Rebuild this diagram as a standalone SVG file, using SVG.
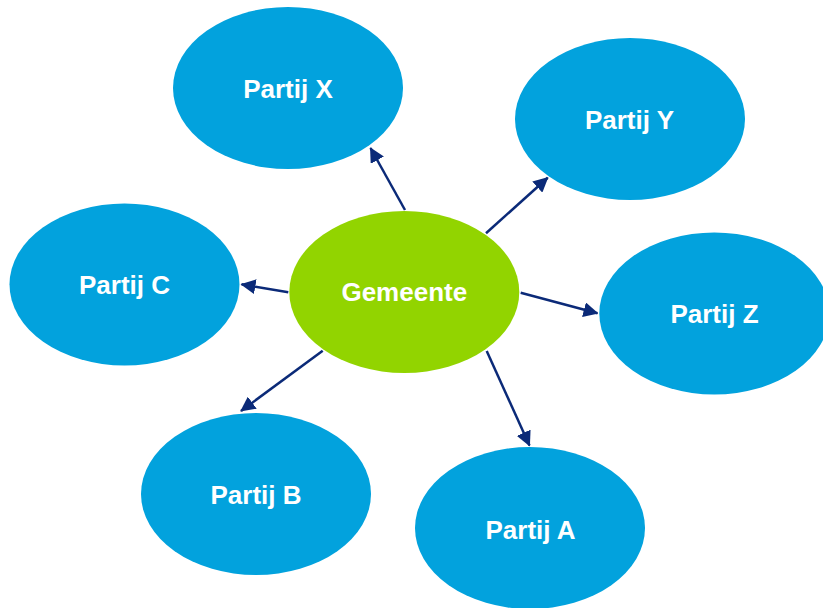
<svg xmlns="http://www.w3.org/2000/svg" width="823" height="608" viewBox="0 0 823 608">
  <style>
    .party { fill: #02A2DD; }
    .center { fill: #92D400; }
    .label { fill: #FFFFFF; font-family: "Liberation Sans", Arial, sans-serif; font-weight: bold; font-size: 26px; text-anchor: middle; }
    .conn { stroke: #0B2A78; stroke-width: 2.5; fill: none; marker-end: url(#arrow); }
  </style>
  <defs>
    <marker id="arrow" markerUnits="userSpaceOnUse" viewBox="0 0 15 15" markerWidth="15" markerHeight="15" refX="14" refY="7.5" orient="auto">
      <path d="M0,0 L15,7.5 L0,15 z" fill="#0B2A78"/>
    </marker>
  </defs>
  <rect width="823" height="608" fill="#FFFFFF"/>

  <g id="partij-x">
    <ellipse class="party" cx="288" cy="88" rx="115" ry="81"/>
    <text class="label" x="288" y="97.5">Partij X</text>
  </g>
  <g id="partij-y">
    <ellipse class="party" cx="630" cy="119" rx="115" ry="81"/>
    <text class="label" x="629.5" y="129">Partij Y</text>
  </g>
  <g id="partij-c">
    <ellipse class="party" cx="124.5" cy="284.5" rx="115" ry="81"/>
    <text class="label" x="124.5" y="294">Partij C</text>
  </g>
  <g id="gemeente">
    <ellipse class="center" cx="404.3" cy="292" rx="115" ry="81"/>
    <text class="label" x="404.3" y="301">Gemeente</text>
  </g>
  <g id="partij-z">
    <ellipse class="party" cx="714.3" cy="313.5" rx="115" ry="81"/>
    <text class="label" x="714.5" y="322.5">Partij Z</text>
  </g>
  <g id="partij-b">
    <ellipse class="party" cx="256" cy="494" rx="115" ry="81"/>
    <text class="label" x="256" y="503.5">Partij B</text>
  </g>
  <g id="partij-a">
    <ellipse class="party" cx="530" cy="528" rx="115" ry="81"/>
    <text class="label" x="530.5" y="538.5">Partij A</text>
  </g>

  <g id="connectors">
    <path class="conn" d="M405,210 L370.5,148"/>
    <path class="conn" d="M486,233.3 L547.7,177.7"/>
    <path class="conn" d="M288.3,292.3 L241.5,284.3"/>
    <path class="conn" d="M520.7,292.7 L597.5,313.3"/>
    <path class="conn" d="M322.7,350.7 L241,411"/>
    <path class="conn" d="M486.7,351 L529.5,445.5"/>
  </g>
</svg>
